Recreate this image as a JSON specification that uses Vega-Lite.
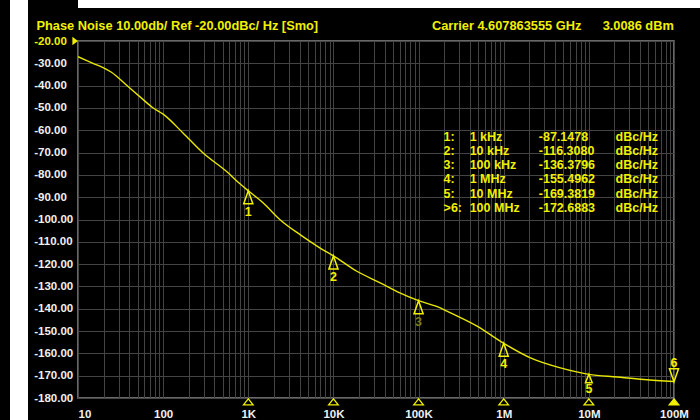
{
  "$schema": "https://vega.github.io/schema/vega-lite/v6.json",
  "background": "#000000",
  "padding": {"left": 10, "top": 0, "right": 0, "bottom": 4},
  "config": {
    "view": {"fill": "#000000", "stroke": "#8a8a8a", "strokeWidth": 1.5},
    "font": "Liberation Sans",
    "locale": {"number": {"decimal": ".", "thousands": ",", "grouping": [3], "currency": ["$", ""], "minus": "-"}}
  },
  "datasets": {
    "trace": [
      {"freq": 10, "level": -27.0},
      {"freq": 15, "level": -30.0},
      {"freq": 19.7, "level": -31.9},
      {"freq": 24.7, "level": -34.0},
      {"freq": 37, "level": -39.7},
      {"freq": 55.7, "level": -45.6},
      {"freq": 75, "level": -49.8},
      {"freq": 100, "level": -52.8},
      {"freq": 172, "level": -61.3},
      {"freq": 295, "level": -70.2},
      {"freq": 557, "level": -78.5},
      {"freq": 798, "level": -84.0},
      {"freq": 1000, "level": -87.15},
      {"freq": 1500, "level": -92.6},
      {"freq": 2360, "level": -100.1},
      {"freq": 4055, "level": -106.8},
      {"freq": 6980, "level": -112.8},
      {"freq": 10000, "level": -116.3},
      {"freq": 18840, "level": -123.2},
      {"freq": 35400, "level": -128.4},
      {"freq": 60260, "level": -132.9},
      {"freq": 100000, "level": -136.4},
      {"freq": 180000, "level": -139.6},
      {"freq": 216000, "level": -141.1},
      {"freq": 486000, "level": -147.8},
      {"freq": 1000000, "level": -155.5},
      {"freq": 2060000, "level": -162.0},
      {"freq": 4640000, "level": -166.5},
      {"freq": 10000000, "level": -169.4},
      {"freq": 21500000, "level": -170.6},
      {"freq": 44400000, "level": -171.7},
      {"freq": 100000000, "level": -172.6}
    ],
    "markers": [
      {"n": 1, "tag": "1:", "ftxt": "1 kHz", "freq": 1000, "level": -87.1478},
      {"n": 2, "tag": "2:", "ftxt": "10 kHz", "freq": 10000, "level": -116.3080},
      {"n": 3, "tag": "3:", "ftxt": "100 kHz", "freq": 100000, "level": -136.3796},
      {"n": 4, "tag": "4:", "ftxt": "1 MHz", "freq": 1000000, "level": -155.4962},
      {"n": 5, "tag": "5:", "ftxt": "10 MHz", "freq": 10000000, "level": -169.3819},
      {"n": 6, "tag": ">6:", "ftxt": "100 MHz", "freq": 100000000, "level": -172.6883}
    ],
    "ref": [{"freq": 10, "level": -20}],
    "blank": [{}]
  },
  "spacing": 4,
  "hconcat": [
    {
      "width": 18,
      "height": 424,
      "data": {"name": "blank"},
      "mark": {"type": "rect", "color": "#ffffff"},
      "encoding": {},
      "view": {"fill": "#ffffff", "stroke": null}
    },
    {
      "spacing": 10,
      "align": "none",
      "vconcat": [
        {
          "width": 670,
          "height": 8,
          "data": {"name": "blank"},
          "mark": {"type": "rect", "color": "#ffffff"},
          "encoding": {},
          "view": {"fill": "#ffffff", "stroke": null}
        },
        {
          "width": 596,
          "height": 357,
          "title": {
            "text": "Phase Noise 10.00db/ Ref -20.00dBc/ Hz [Smo]\u00a0\u00a0\u00a0\u00a0\u00a0\u00a0\u00a0\u00a0\u00a0\u00a0\u00a0\u00a0\u00a0\u00a0\u00a0\u00a0\u00a0\u00a0\u00a0\u00a0\u00a0\u00a0\u00a0\u00a0\u00a0\u00a0\u00a0\u00a0\u00a0\u00a0\u00a0\u00a0Carrier 4.607863555 GHz\u00a0\u00a0\u00a0\u00a0\u00a0\u00a03.0086 dBm",
            "anchor": "start",
            "frame": "group",
            "dx": -41.5,
            "offset": -7.5,
            "baseline": "alphabetic",
            "font": "Liberation Sans",
            "fontSize": 12.8,
            "fontWeight": "bold",
            "color": "#f0f000"
          },
          "layer": [
            {
              "encoding": {
                "x": {
                  "field": "freq", "type": "quantitative",
                  "scale": {"type": "log", "domain": [10, 100000000], "nice": false},
                  "axis": {
                    "values": [10,20,30,40,50,60,70,80,90,100,200,300,400,500,600,700,800,900,1000,2000,3000,4000,5000,6000,7000,8000,9000,10000,20000,30000,40000,50000,60000,70000,80000,90000,100000,200000,300000,400000,500000,600000,700000,800000,900000,1000000,2000000,3000000,4000000,5000000,6000000,7000000,8000000,9000000,10000000,20000000,30000000,40000000,50000000,60000000,70000000,80000000,90000000,100000000],
                    "labelExpr": "datum.value == 10 ? '10' : datum.value == 100 ? '100' : datum.value == 1000 ? '1K' : datum.value == 10000 ? '10K' : datum.value == 100000 ? '100K' : datum.value == 1000000 ? '1M' : datum.value == 10000000 ? '10M' : datum.value == 100000000 ? '100M' : ''",
                    "labelAlign": {"condition": {"test": "datum.value == 10", "value": "left"}, "value": "center"},
                    "grid": true, "gridColor": "#444444", "gridWidth": 1,
                    "ticks": false, "domain": false,
                    "labelColor": "#f0f0f0", "labelFont": "Liberation Sans", "labelFontWeight": "bold", "labelFontSize": 11.5,
                    "labelPadding": 10.5, "labelOverlap": false, "labelFlush": false,
                    "title": null
                  }
                },
                "y": {
                  "field": "level", "type": "quantitative",
                  "scale": {"domain": [-180, -20], "nice": false, "zero": false},
                  "axis": {
                    "values": [-180,-170,-160,-150,-140,-130,-120,-110,-100,-90,-80,-70,-60,-50,-40,-30,-20],
                    "tickCount": 17,
                    "format": ".2f",
                    "grid": true, "gridColor": "#444444", "gridWidth": 1,
                    "ticks": false, "domain": false,
                    "labelColor": {"condition": {"test": "datum.value == -20", "value": "#f0f000"}, "value": "#f0f0f0"},
                    "labelFont": "Liberation Sans", "labelFontWeight": "bold", "labelFontSize": 11.5,
                    "labelAlign": "left",
                    "labelPadding": 44.3, "labelOverlap": false, "labelFlush": false,
                    "title": null
                  }
                }
              },
              "layer": [
                {
                  "data": {"name": "trace"},
                  "mark": {"type": "line", "color": "#e8e800", "strokeWidth": 1.4, "interpolate": "monotone", "clip": true}
                },
                {
                  "data": {"name": "ref"},
                  "mark": {"type": "point", "filled": true, "color": "#f0f000", "opacity": 1, "size": 70, "shape": "M-1.35,-1L0,0L-1.35,1Z", "clip": false}
                },
                {
                  "data": {"name": "markers"},
                  "mark": {"type": "point", "filled": false, "stroke": "#f0f000", "strokeWidth": 1.5, "opacity": 1, "size": 169, "clip": false},
                  "encoding": {
                    "shape": {
                      "condition": [
                        {"test": "datum.n == 6", "value": "M0,0L-0.7,-2L0.7,-2Z"},
                        {"test": "datum.n == 5", "value": "M0,0L-0.52,1.28L0.52,1.28Z"}
                      ],
                      "value": "M0,0L-0.7,2L0.7,2Z"
                    }
                  }
                },
                {
                  "data": {"name": "markers"},
                  "transform": [{"filter": "datum.n <= 4"}],
                  "mark": {"type": "text", "font": "Liberation Sans", "fontWeight": "bold", "fontSize": 12.5, "baseline": "middle", "align": "center", "dy": 21, "clip": false},
                  "encoding": {
                    "text": {"field": "n", "type": "nominal"},
                    "color": {"condition": {"test": "datum.n == 3", "value": "#7a7a1c"}, "value": "#f0f000"}
                  }
                },
                {
                  "data": {"name": "markers"},
                  "transform": [{"filter": "datum.n == 5"}],
                  "mark": {"type": "text", "font": "Liberation Sans", "fontWeight": "bold", "fontSize": 12.5, "baseline": "middle", "align": "center", "dy": 15, "color": "#f0f000", "clip": false},
                  "encoding": {"text": {"field": "n", "type": "nominal"}}
                },
                {
                  "data": {"name": "markers"},
                  "transform": [{"filter": "datum.n == 6"}],
                  "mark": {"type": "text", "font": "Liberation Sans", "fontWeight": "bold", "fontSize": 12.5, "baseline": "middle", "align": "center", "dy": -19, "color": "#f0f000", "clip": false},
                  "encoding": {"text": {"field": "n", "type": "nominal"}}
                },
                {
                  "data": {"name": "markers"},
                  "mark": {"type": "point", "filled": false, "stroke": "#f0f000", "strokeWidth": 1.3, "opacity": 1, "size": 144, "shape": "M0,0.15L-0.8,1.15L0.8,1.15Z", "clip": false},
                  "encoding": {
                    "y": {"datum": -180},
                    "fill": {"condition": {"test": "datum.n == 6", "value": "#f0f000"}, "value": "transparent"}
                  }
                }
              ]
            },
            {
              "data": {"name": "markers"},
              "encoding": {
                "y": {"field": "n", "type": "ordinal", "scale": {"type": "point", "range": [99.5, 171], "padding": 0}, "axis": null}
              },
              "layer": [
                {
                  "mark": {"type": "text", "font": "Liberation Sans", "fontWeight": "bold", "fontSize": 12.5, "align": "left", "baseline": "alphabetic", "color": "#f0f000"},
                  "encoding": {"x": {"datum": 196800}, "text": {"field": "tag", "type": "nominal"}}
                },
                {
                  "mark": {"type": "text", "font": "Liberation Sans", "fontWeight": "bold", "fontSize": 12.5, "align": "left", "baseline": "alphabetic", "color": "#f0f000"},
                  "encoding": {"x": {"datum": 398000}, "text": {"field": "ftxt", "type": "nominal"}}
                },
                {
                  "mark": {"type": "text", "font": "Liberation Sans", "fontWeight": "bold", "fontSize": 12.5, "align": "left", "baseline": "alphabetic", "color": "#f0f000"},
                  "encoding": {"x": {"datum": 2580000}, "text": {"field": "level", "type": "quantitative", "format": ".4f"}}
                },
                {
                  "mark": {"type": "text", "font": "Liberation Sans", "fontWeight": "bold", "fontSize": 12.5, "align": "left", "baseline": "alphabetic", "color": "#f0f000"},
                  "encoding": {"x": {"datum": 20600000}, "text": {"value": "dBc/Hz"}}
                }
              ]
            }
          ],
          "resolve": {"scale": {"y": "independent"}}
        }
      ]
    }
  ]
}
